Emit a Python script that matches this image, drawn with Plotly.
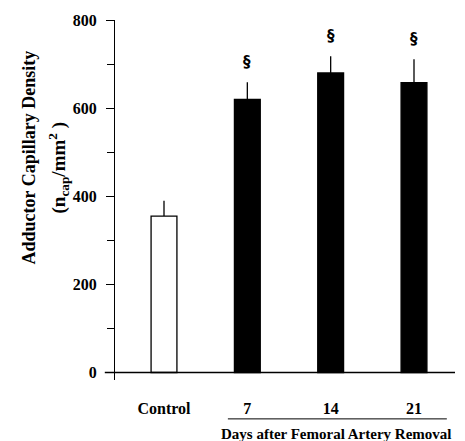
import plotly.graph_objects as go

categories = ["Control", "7", "14", "21"]
means = [355, 620, 680, 658]
err_plus = [35, 39, 38, 53]
bar_colors = ["white", "black", "black", "black"]
sig_marks = ["", "§", "§", "§"]
y_tickvals = [0, 200, 400, 600, 800]

serif = "Liberation Serif"

fig = go.Figure()
fig.add_trace(go.Bar(
    x=categories, y=means,
    marker=dict(color=bar_colors, line=dict(color="black", width=1.3)),
    width=0.31,
    error_y=dict(type="data", symmetric=False, array=err_plus,
                 arrayminus=[0] * len(means), color="black",
                 thickness=1.3, width=0),
    showlegend=False,
))

for i, (m, e, s) in enumerate(zip(means, err_plus, sig_marks)):
    if s:
        fig.add_annotation(x=i, y=m + e, text="<b>" + s + "</b>", showarrow=False,
                           yanchor="bottom", yshift=9,
                           font=dict(family="DejaVu Sans", size=15, color="black"))

# x-axis baseline
fig.add_shape(type="line", xref="paper", yref="y", x0=-0.03, x1=1.0, y0=0, y1=0,
              line=dict(color="black", width=1.3))
# underline for days group
fig.add_shape(type="line", xref="paper", yref="paper", x0=0.332, x1=0.976,
              y0=-0.108, y1=-0.108, line=dict(color="black", width=1))
fig.add_annotation(xref="paper", yref="paper", x=0.65, y=-0.15,
                   text="<b>Days after Femoral Artery Removal</b>", showarrow=False,
                   xanchor="center", yanchor="middle",
                   font=dict(family=serif, size=15, color="black"))
# y titles
fig.add_annotation(xref="paper", yref="paper", x=-0.252, y=0.619,
                   text="<b>Adductor Capillary Density</b>", showarrow=False, textangle=-90,
                   xanchor="center", yanchor="middle",
                   font=dict(family=serif, size=18, color="black"))
fig.add_annotation(xref="paper", yref="paper", x=-0.165, y=0.59,
                   text="<b>(n<sub>cap</sub>/mm<sup>2</sup> )</b>", showarrow=False, textangle=-90,
                   xanchor="center", yanchor="middle",
                   font=dict(family=serif, size=19, color="black"))

fig.update_layout(
    width=465, height=441,
    margin=dict(l=115, r=10, t=20, b=61),
    paper_bgcolor="white", plot_bgcolor="white",
    xaxis=dict(type="category", range=[-0.588, 3.492], showline=False, ticks="",
               showgrid=False, zeroline=False, ticklabelstandoff=17,
               tickfont=dict(family=serif, size=16, color="black", weight="bold")),
    yaxis=dict(range=[-17, 800], tickvals=y_tickvals, showline=True, linecolor="black",
               linewidth=1.3, ticks="outside", ticklen=8, tickwidth=1.3, tickcolor="black",
               showgrid=False, zeroline=False, ticklabelstandoff=6,
               minor=dict(tickvals=[100, 300, 500, 700], ticks="outside", ticklen=7,
                          tickwidth=1, tickcolor="black"),
               tickfont=dict(family=serif, size=16, color="black", weight="bold")),
)

fig.write_html("out.html")
